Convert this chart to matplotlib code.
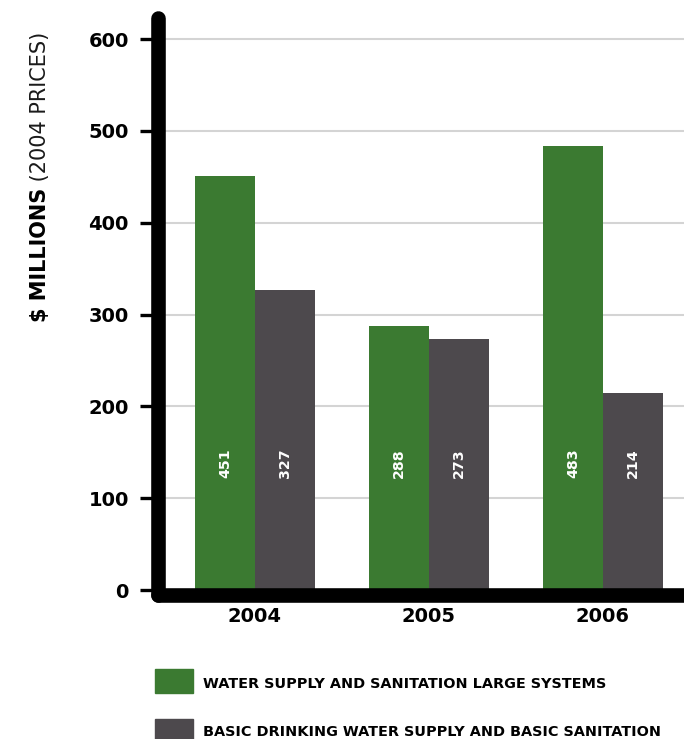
import matplotlib
matplotlib.use("Agg")
import matplotlib.pyplot as plt
from matplotlib.patches import Rectangle
import numpy as np

# Aid spending by year, $ millions (2004 prices)
years = ["2004", "2005", "2006"]
large_systems = [451, 288, 483]
basic_sanitation = [327, 273, 214]
series_names = ["WATER SUPPLY AND SANITATION LARGE SYSTEMS",
                "BASIC DRINKING WATER SUPPLY AND BASIC SANITATION"]
y_ticks = [0, 100, 200, 300, 400, 500, 600]

GREEN = "#3b7a31"
GREY = "#4d494d"

plt.rcParams['font.family'] = ['DejaVu Sans']

W, H = 684, 739
fig = plt.figure(figsize=(W / 100, H / 100), dpi=100)
ax = fig.add_axes([158 / W, 0.1954, 1 - 158 / W, 0.7804])

x = np.arange(len(years))
w = 0.345
b1 = ax.bar(x - w / 2, large_systems, w, color=GREEN, zorder=2)
b2 = ax.bar(x + w / 2, basic_sanitation, w, color=GREY, zorder=2)

# value labels written vertically inside each bar
for bars, vals in ((b1, large_systems), (b2, basic_sanitation)):
    for bar, v in zip(bars, vals):
        ax.text(bar.get_x() + bar.get_width() / 2, 138, str(v), rotation=90,
                ha='center', va='center', color='white', fontsize=10.2,
                fontweight='bold', zorder=3)

ax.set_xlim(-0.557, 2.466)
ax.set_ylim(-5, 623)

ax.set_axisbelow(True)
ax.yaxis.grid(True, color='#d4d4d4', lw=1.5)

for side in ('top', 'right'):
    ax.spines[side].set_visible(False)
for side in ('left', 'bottom'):
    ax.spines[side].set_linewidth(10.5)
    ax.spines[side].set_capstyle('round')
    ax.spines[side].set_color('black')

ax.set_yticks(y_ticks, labels=[str(t) for t in y_ticks],
              fontsize=14, fontweight='bold')
ax.tick_params(axis='y', length=13, width=2.4, pad=8, color='black')
ax.set_xticks(x, labels=years, fontsize=14, fontweight='bold')
ax.tick_params(axis='x', length=0, pad=9)

# y-axis title: bold unit followed by lighter qualifier
t1 = fig.text(40 / W, 1 - 322 / H, "$ MILLIONS", rotation=90, ha='center',
              va='bottom', fontsize=15, fontweight='bold')
ax.annotate(" (2004 PRICES)", xy=(0.5, 1), xycoords=t1, rotation=90,
            ha='center', va='bottom', fontsize=15, fontweight='normal',
            color='#1a1a1a', annotation_clip=False)

# legend
for (ytop, ybot, ytext), name, col in zip(((669, 693, 684), (719, 745, 732)),
                                          series_names, (GREEN, GREY)):
    fig.patches.append(Rectangle((155 / W, 1 - ybot / H), 38 / W,
                                 (ybot - ytop) / H, transform=fig.transFigure,
                                 color=col))
    fig.text(203 / W, 1 - ytext / H, name, va='center', ha='left',
             fontsize=10.4, fontweight='bold')

fig.savefig("out.png", dpi=100)
